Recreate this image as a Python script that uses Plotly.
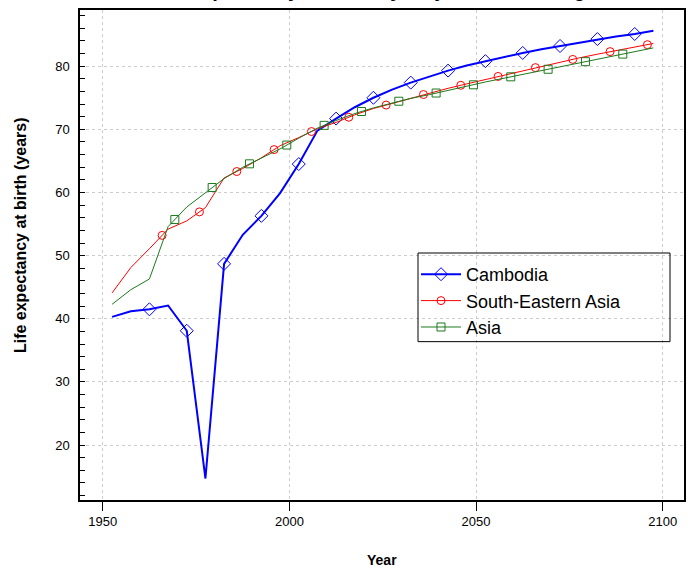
import numpy as np
import plotly.graph_objects as go

# ---------------- data ----------------
years = [1952.5, 1957.5, 1962.5, 1967.5, 1972.5, 1977.5, 1982.5, 1987.5, 1992.5, 1997.5,
         2002.5, 2007.5, 2012.5, 2017.5, 2022.5, 2027.5, 2032.5, 2037.5, 2042.5, 2047.5,
         2052.5, 2057.5, 2062.5, 2067.5, 2072.5, 2077.5, 2082.5, 2087.5, 2092.5, 2097.5]

cambodia = [40.3, 41.2, 41.5, 42.1, 38.1, 14.7, 48.7, 53.3, 56.3, 59.9,
            64.5, 69.8, 71.7, 73.5, 75.0, 76.3, 77.4, 78.4, 79.3, 80.1,
            80.8, 81.5, 82.1, 82.7, 83.2, 83.8, 84.3, 84.7, 85.1, 85.6]

se_asia = [44.1, 48.1, 51.1, 54.2, 55.5, 57.6, 62.3, 63.8, 65.5, 67.4,
           68.7, 70.1, 71.1, 72.3, 73.3, 74.1, 74.9, 75.8, 76.5, 77.2,
           77.9, 78.6, 79.3, 80.0, 80.6, 81.3, 81.9, 82.5, 83.0, 83.6]

asia = [42.3, 44.6, 46.3, 54.6, 57.7, 60.0, 62.2, 64.0, 65.5, 66.9,
        68.6, 70.2, 71.4, 72.5, 73.4, 74.2, 74.9, 75.5, 76.2, 76.8,
        77.5, 78.1, 78.7, 79.3, 79.9, 80.5, 81.1, 81.7, 82.3, 82.9]

series_names = ["Cambodia", "South-Eastern Asia", "Asia"]
x_ticks = [1950, 2000, 2050, 2100]
y_ticks = [20, 30, 40, 50, 60, 70, 80]

title_text = "Life expectancy at birth by major area and region"
x_title = "Year"
y_title = "Life expectancy at birth (years)"

# ---------------- styles ----------------
colors = ["#0000FF", "#FF0000", "#1C7A1C"]
widths = [2, 1, 1]
symbols = ["diamond-open", "circle-open", "square-open"]
msizes = [10, 8, 8]
marker_offsets = [10.0, 13.4, 16.8]   # first marker position after series start (years)
marker_step = 10

W, H = 697, 570
ML, MR, MT, MB = 80, 13, 8, 70
PW = W - ML - MR
PH = H - MT - MB

fig = go.Figure()
data = [cambodia, se_asia, asia]
for name, vals, c, w, s, ms, off in zip(series_names, data, colors, widths, symbols, msizes, marker_offsets):
    fig.add_trace(go.Scatter(x=years, y=vals, mode="lines",
                             line=dict(color=c, width=w), showlegend=False, hoverinfo="skip"))
    mx = np.arange(years[0] + off, years[-1] + 1e-9, marker_step)
    my = np.interp(mx, years, vals)
    fig.add_trace(go.Scatter(x=mx, y=my, mode="markers",
                             marker=dict(symbol=s, size=ms, color=c, line=dict(color=c, width=1)),
                             showlegend=False))
    fig.add_trace(go.Scatter(x=[None], y=[None], mode="lines+markers", name=name,
                             line=dict(color=c, width=w),
                             marker=dict(symbol=s, size=ms, color=c, line=dict(color=c, width=1))))

font_family = "Liberation Sans, Arial, sans-serif"

def px_to_paper_x(px):
    return (px - ML) / PW

def px_to_paper_y(py):
    return (H - MB - py) / PH

fig.update_layout(
    width=W, height=H,
    margin=dict(l=ML, r=MR, t=MT, b=MB),
    plot_bgcolor="white", paper_bgcolor="white",
    font=dict(family=font_family, size=13, color="black"),
    showlegend=True,
    legend=dict(x=px_to_paper_x(416), y=px_to_paper_y(255), xanchor="left", yanchor="top",
                bgcolor="rgba(0,0,0,0)", borderwidth=0,
                font=dict(family=font_family, size=18, color="black"),
                itemwidth=40, tracegroupgap=0),
    xaxis=dict(range=[1943.9, 2105.7], tickvals=x_ticks, ticks="outside", ticklen=9,
               tickcolor="black", tickwidth=1,
               showgrid=True, gridcolor="#CCCCCC", griddash="dot", gridwidth=1,
               showline=True, linecolor="black", linewidth=1.5, mirror=True,
               zeroline=False, tickfont=dict(size=13)),
    yaxis=dict(range=[11.3, 88.9], tickvals=y_ticks, ticks="",
               showgrid=True, gridcolor="#CCCCCC", griddash="dot", gridwidth=1,
               showline=True, linecolor="black", linewidth=1.5, mirror=True,
               zeroline=False, tickfont=dict(size=13), ticklabelstandoff=6,
               minor=dict(dtick=2, tick0=0, ticks="inside", ticklen=5, tickcolor="black",
                          tickwidth=1, showgrid=False)),
    shapes=[dict(type="rect", xref="paper", yref="paper",
                 x0=px_to_paper_x(418), x1=px_to_paper_x(670),
                 y0=px_to_paper_y(341), y1=px_to_paper_y(252),
                 line=dict(color="black", width=1), fillcolor="rgba(0,0,0,0)")],
    annotations=[
        dict(text=f"<b>{title_text}</b>", xref="paper", yref="paper",
             x=0.5, y=px_to_paper_y(0.5), xanchor="center", yanchor="bottom",
             showarrow=False, font=dict(size=20, family=font_family)),
        dict(text=f"<b>{x_title}</b>", xref="paper", yref="paper",
             x=px_to_paper_x(382), y=px_to_paper_y(560), xanchor="center", yanchor="middle",
             showarrow=False, font=dict(size=14, family=font_family)),
        dict(text=f"<b>{y_title}</b>", xref="paper", yref="paper",
             x=px_to_paper_x(20), y=px_to_paper_y(234), xanchor="center", yanchor="middle",
             textangle=-90, showarrow=False, font=dict(size=16, family=font_family)),
    ],
)

fig.write_html("out.html",
               config={"displayModeBar": False},
               post_script="document.body.style.margin='0';document.body.style.padding='0';")
